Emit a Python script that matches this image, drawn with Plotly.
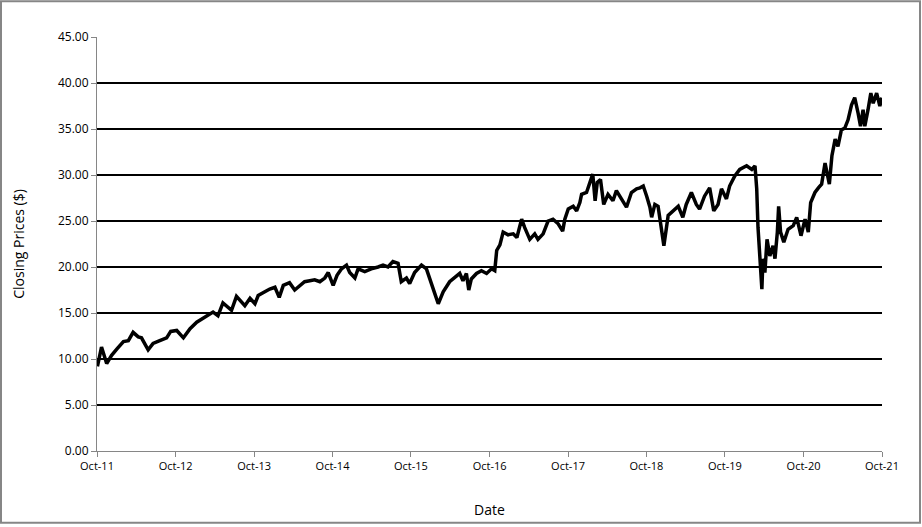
import plotly.graph_objects as go

dates = [
    "2011-10-03", "2011-10-22", "2011-11-15", "2011-12-08", "2012-01-02", "2012-02-01", "2012-02-24",
    "2012-03-17", "2012-04-10", "2012-04-25", "2012-05-26", "2012-06-18", "2012-07-19", "2012-08-20",
    "2012-09-08", "2012-10-06", "2012-11-06", "2012-12-07", "2013-01-07", "2013-02-23", "2013-03-24",
    "2013-04-16", "2013-05-09", "2013-06-18", "2013-07-11", "2013-08-19", "2013-09-12", "2013-10-05",
    "2013-10-20", "2013-11-20", "2013-12-13", "2014-01-06", "2014-01-26", "2014-02-14", "2014-03-15",
    "2014-04-08", "2014-05-01", "2014-05-24", "2014-06-17", "2014-07-10", "2014-08-03", "2014-08-26",
    "2014-09-11", "2014-10-04", "2014-10-22", "2014-11-12", "2014-12-05", "2014-12-20", "2015-01-13",
    "2015-01-28", "2015-02-28", "2015-03-30", "2015-05-01", "2015-05-24", "2015-06-16", "2015-07-09",
    "2015-08-02", "2015-08-17", "2015-09-10", "2015-09-25", "2015-10-18", "2015-11-19", "2015-12-12",
    "2016-01-05", "2016-01-20", "2016-02-05", "2016-02-28", "2016-03-29", "2016-04-22", "2016-05-15",
    "2016-05-30", "2016-06-15", "2016-06-26", "2016-07-08", "2016-08-01", "2016-08-24", "2016-09-17",
    "2016-10-10", "2016-10-25", "2016-11-03", "2016-11-18", "2016-12-03", "2016-12-26", "2017-01-19",
    "2017-02-05", "2017-02-27", "2017-03-13", "2017-04-06", "2017-04-29", "2017-05-14", "2017-06-07",
    "2017-06-30", "2017-07-23", "2017-08-16", "2017-09-06", "2017-09-16", "2017-10-02", "2017-10-25",
    "2017-11-10", "2017-11-25", "2017-12-03", "2017-12-26", "2018-01-11", "2018-01-24", "2018-02-04",
    "2018-02-14", "2018-03-01", "2018-03-16", "2018-04-05", "2018-04-28", "2018-05-14", "2018-06-07",
    "2018-06-30", "2018-07-23", "2018-08-16", "2018-09-01", "2018-09-16", "2018-10-02", "2018-10-17",
    "2018-10-25", "2018-11-09", "2018-11-24", "2018-12-10", "2018-12-21", "2019-01-10", "2019-02-03",
    "2019-02-26", "2019-03-19", "2019-04-04", "2019-04-28", "2019-05-21", "2019-06-05", "2019-06-28",
    "2019-07-22", "2019-08-10", "2019-08-30", "2019-09-15", "2019-10-08", "2019-10-23", "2019-11-16",
    "2019-12-09", "2020-01-10", "2020-02-03", "2020-02-18", "2020-02-26", "2020-03-03", "2020-03-08",
    "2020-03-14", "2020-03-21", "2020-03-26", "2020-04-04", "2020-04-14", "2020-04-27", "2020-05-12",
    "2020-05-21", "2020-06-01", "2020-06-07", "2020-06-16", "2020-07-01", "2020-07-21", "2020-08-14",
    "2020-08-30", "2020-09-19", "2020-10-08", "2020-10-23", "2020-11-03", "2020-11-23", "2020-12-09",
    "2020-12-24", "2021-01-09", "2021-01-20", "2021-01-29", "2021-02-10", "2021-02-25", "2021-03-10",
    "2021-03-26", "2021-04-11", "2021-04-26", "2021-05-12", "2021-05-27", "2021-06-12", "2021-06-23",
    "2021-07-05", "2021-07-13", "2021-07-28", "2021-08-10", "2021-08-21", "2021-09-06", "2021-09-21",
    "2021-09-30",
]

closing_prices = [
    9.2, 11.3, 9.5, 10.4, 11.1, 11.9, 12.0,
    12.9, 12.4, 12.3, 11.0, 11.7, 12.0, 12.3,
    13.0, 13.1, 12.3, 13.3, 14.0, 14.7, 15.1,
    14.7, 16.1, 15.3, 16.8, 15.8, 16.6, 16.0,
    16.9, 17.3, 17.6, 17.8, 16.7, 18.0, 18.3,
    17.5, 18.0, 18.4, 18.5, 18.6, 18.4, 18.8,
    19.4, 18.0, 19.1, 19.8, 20.2, 19.4, 18.8,
    19.8, 19.5, 19.8, 20.0, 20.2, 20.0, 20.6,
    20.4, 18.4, 18.8, 18.2, 19.4, 20.2, 19.8,
    18.0, 17.1, 16.0, 17.3, 18.4, 18.9, 19.3,
    18.5, 19.3, 17.5, 18.7, 19.3, 19.6, 19.3,
    19.8, 19.6, 21.8, 22.4, 23.8, 23.5, 23.6,
    23.2, 25.2, 24.3, 23.0, 23.6, 23.0, 23.6,
    25.0, 25.2, 24.7, 23.9, 25.2, 26.3, 26.6,
    26.1, 27.0, 27.9, 28.1, 29.2, 30.1, 27.2,
    29.2, 29.5, 26.8, 27.9, 27.2, 28.3, 27.4,
    26.5, 28.1, 28.5, 28.6, 28.8, 27.7, 26.5,
    25.4, 26.8, 26.6, 24.1, 22.3, 25.6, 26.1,
    26.6, 25.4, 26.8, 28.1, 26.8, 26.3, 27.7,
    28.6, 26.1, 26.8, 28.5, 27.4, 28.8, 29.9,
    30.6, 31.0, 30.6, 31.0, 28.5, 24.3, 22.3,
    20.2, 17.6, 20.9, 19.4, 23.0, 21.2, 22.3,
    20.9, 23.8, 26.6, 23.8, 22.7, 24.1, 24.5,
    25.4, 23.4, 25.2, 23.8, 27.0, 28.1, 28.6,
    29.0, 31.3, 30.1, 29.0, 32.1, 33.9, 33.1,
    34.9, 35.1, 36.0, 37.6, 38.4, 36.7, 35.3,
    37.1, 35.3, 37.1, 38.9, 37.8, 38.9, 37.5,
    38.4,
]

x_tick_dates = ["2011-10-01", "2012-10-01", "2013-10-01", "2014-10-01", "2015-10-01", "2016-10-01",
                "2017-10-01", "2018-10-01", "2019-10-01", "2020-10-01", "2021-10-01"]
x_tick_labels = ["Oct-11", "Oct-12", "Oct-13", "Oct-14", "Oct-15", "Oct-16",
                 "Oct-17", "Oct-18", "Oct-19", "Oct-20", "Oct-21"]
y_ticks = [0, 5, 10, 15, 20, 25, 30, 35, 40, 45]
y_tick_labels = ["%.2f" % v for v in y_ticks]

W, H = 922, 527
L, R, T, B = 97, 40, 37, 74
pw, ph = W - L - R, H - T - B

fig = go.Figure()
fig.add_trace(go.Scatter(
    x=dates, y=closing_prices, mode="lines",
    line=dict(color="black", width=3.5), showlegend=False,
))

font = "Open Sans, Liberation Sans, sans-serif"
fig.update_layout(
    width=W, height=H,
    margin=dict(l=L, r=R, t=T, b=B, pad=0),
    paper_bgcolor="white", plot_bgcolor="white",
    font=dict(family=font, color="black", size=12),
    xaxis=dict(
        range=["2011-10-01", "2021-10-01"],
        tickvals=x_tick_dates, ticktext=x_tick_labels,
        showgrid=False, zeroline=False,
        showline=True, linecolor="#868686", linewidth=1,
        ticks="outside", ticklen=5, tickcolor="#868686",
        tickfont=dict(size=11),
        title=dict(text="Date", font=dict(size=14), standoff=32),
    ),
    yaxis=dict(
        range=[0, 45],
        tickvals=y_ticks, ticktext=y_tick_labels,
        showgrid=True, gridcolor="black", gridwidth=2,
        zeroline=False,
        showline=True, linecolor="#868686", linewidth=1,
        ticks="outside", ticklen=5, tickcolor="#868686",
        tickfont=dict(size=12),
        title=dict(text="Closing Prices ($)", font=dict(size=14), standoff=30),
    ),
    shapes=[dict(
        type="rect", xref="paper", yref="paper",
        x0=-(L - 1) / pw, x1=1 + (R - 2) / pw,
        y0=-(B - 2) / ph, y1=1 + (T - 1) / ph,
        line=dict(color="#868686", width=2), fillcolor="rgba(0,0,0,0)",
        layer="below",
    )],
)

post = ("document.documentElement.style.margin='0';document.documentElement.style.padding='0';"
        "document.documentElement.style.overflow='hidden';"
        "document.body.style.margin='0';document.body.style.padding='0';"
        "document.body.style.overflow='hidden';")
fig.write_html("out.html", config={"displayModeBar": False}, post_script=post)
